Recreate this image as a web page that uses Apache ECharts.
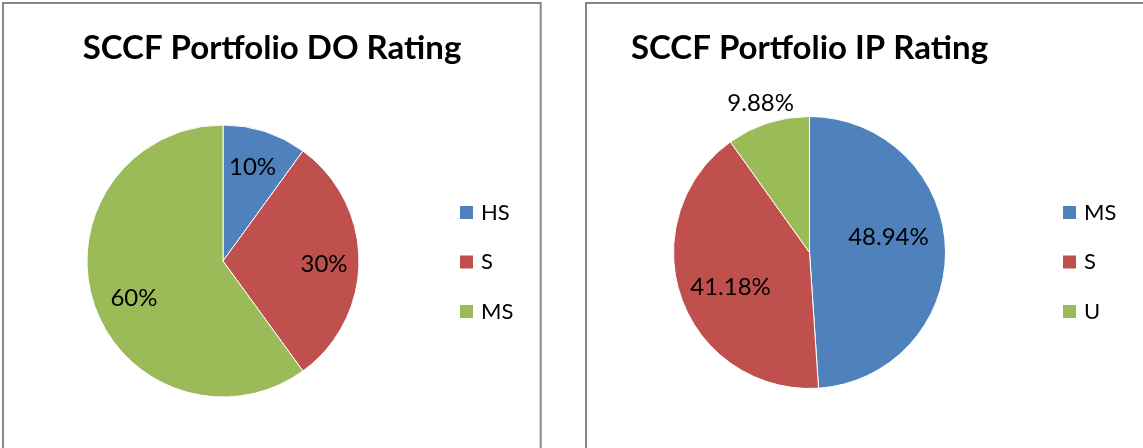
<!DOCTYPE html>
<html>
<head>
<meta charset="utf-8">
<script src="https://cdn.jsdelivr.net/npm/echarts@6/dist/echarts.min.js"></script>
<style>
  html, body { margin: 0; padding: 0; background: #fff; }
  #left { position: absolute; left: 0; top: 0; width: 563px; height: 448px; }
  #right { position: absolute; left: 563px; top: 0; width: 580px; height: 448px; }
</style>
</head>
<body>
<div id="left"></div>
<div id="right"></div>
<script>
// ---- Data ----
const doTitle = 'SCCF Portfolio DO Rating';
const doCategories = ['HS', 'S', 'MS'];
const doValues = [10, 30, 60];
const doLabels = ['10%', '30%', '60%'];

const ipTitle = 'SCCF Portfolio IP Rating';
const ipCategories = ['MS', 'S', 'U'];
const ipValues = [48.94, 41.18, 9.88];
const ipLabels = ['48.94%', '41.18%', '9.88%'];
const ipOutsideLabel = [false, false, true];

const colors = ['#4F81BD', '#C0504D', '#9BBB59'];

const FONT = 'Lato, "Open Sans", sans-serif';

function buildOption(cfg) {
  const mkData = (showFn) => cfg.cats.map((c, i) => ({
    name: c, value: cfg.vals[i],
    label: { show: showFn(i), formatter: cfg.labels[i], offset: (cfg.nudge && cfg.nudge[i]) || [0, 0] }
  }));
  const labelStyle = {
    position: 'inside', color: '#000', fontFamily: FONT, fontSize: 24
  };
  const hiddenItem = { color: 'rgba(0,0,0,0)', borderWidth: 0 };
  const series = [{
    type: 'pie', center: cfg.center, radius: [0, 136],
    startAngle: 90, clockwise: true, silent: true,
    itemStyle: { borderColor: '#fff', borderWidth: 1 },
    label: { show: false }, labelLine: { show: false },
    data: cfg.cats.map((c, i) => ({ name: c, value: cfg.vals[i] }))
  }, {
    type: 'pie', center: cfg.center, radius: cfg.labelRadius,
    startAngle: 90, clockwise: true, silent: true,
    itemStyle: hiddenItem, label: labelStyle, labelLine: { show: false },
    avoidLabelOverlap: false,
    data: mkData(i => !(cfg.outside && cfg.outside[i]))
  }];
  if (cfg.outside) {
    series.push({
      type: 'pie', center: cfg.center, radius: cfg.outerLabelRadius,
      startAngle: 90, clockwise: true, silent: true,
      itemStyle: hiddenItem, label: labelStyle, labelLine: { show: false },
      avoidLabelOverlap: false,
      data: mkData(i => cfg.outside[i])
    });
  }
  return {
    animation: false,
    color: colors,
    title: {
      text: cfg.title, left: cfg.titleX, top: 48, padding: 0,
      textAlign: 'center', textVerticalAlign: 'middle',
      textStyle: { fontFamily: FONT, fontWeight: 'bold', fontSize: 33, color: '#000' }
    },
    legend: {
      orient: 'vertical', left: cfg.legendX, top: 201.5, padding: 0,
      itemWidth: 15, itemHeight: 15, itemGap: 27.5, icon: 'rect',
      data: cfg.cats,
      textStyle: { fontFamily: FONT, fontSize: 22, lineHeight: 21, color: '#000', padding: [0, 0, 0, 2] }
    },
    graphic: [{
      type: 'rect', shape: { x: cfg.frameX, y: 3, width: cfg.frameW, height: 1000 },
      style: { fill: 'none', stroke: '#878787', lineWidth: 2 }, silent: true, z: -10
    }],
    series: series
  };
}

const left = echarts.init(document.getElementById('left'));
left.setOption(buildOption({
  title: doTitle, titleX: 272, legendX: 458, frameX: 3, frameW: 537.7,
  cats: doCategories, vals: doValues, labels: doLabels,
  center: [223, 261], labelRadius: [62, 136],
  nudge: [[-2, 3], [-1, 3], [8, 6]]
}));

const right = echarts.init(document.getElementById('right'));
right.setOption(buildOption({
  title: ipTitle, titleX: 246.5, legendX: 498, frameX: 23, frameW: 2000,
  cats: ipCategories, vals: ipValues, labels: ipLabels,
  center: [246.5, 252.5], labelRadius: [30, 136],
  outside: ipOutsideLabel, outerLabelRadius: [140, 174],
  nudge: [[-7, -12], [2, 6], [0, 3]]
}));
</script>
</body>
</html>
